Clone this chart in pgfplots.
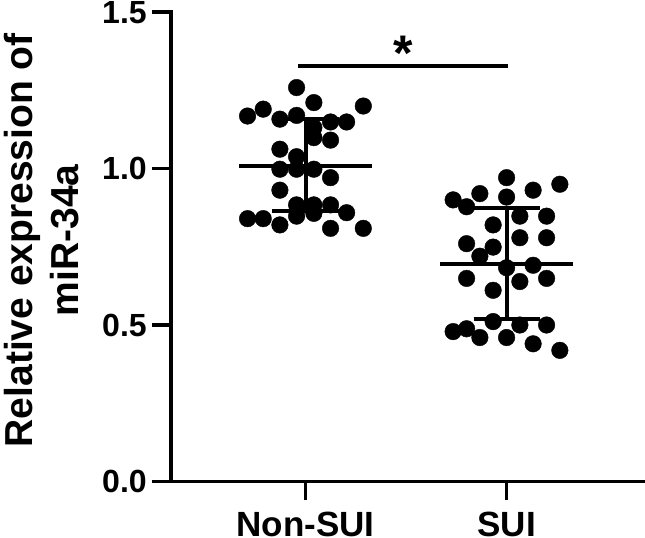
\documentclass[border=0pt]{standalone}
\usepackage{fontspec}
\setmainfont{Liberation Sans}
\usepackage{pgfplots}
\pgfplotsset{compat=1.18}
\begin{document}
\begin{tikzpicture}
\begin{axis}[
    scale only axis,
    width=472pt, height=469pt,
    xmin=-0.67, xmax=1.68,
    ymin=0, ymax=1.5,
    clip=false,
    axis x line*=bottom,
    axis y line*=left,
    axis line style={line width=3.5pt, line cap=rect},
    xtick={0,1},
    xticklabels={Non-SUI,SUI},
    ytick={0,0.5,1,1.5},
    tick align=outside,
    major tick length=19pt,
    tick style={line width=3.5pt, black},
    /pgf/number format/assume math mode=true,
    yticklabel style={font=\fontsize{32}{32}\selectfont\bfseries, inner sep=1pt, xshift=-4pt,
        /pgf/number format/.cd, fixed, fixed zerofill, precision=1},
    xticklabel style={font=\fontsize{35}{35}\selectfont\bfseries, inner sep=1pt, yshift=-10pt},
    ylabel={Relative expression of\\miR-34a},
    ylabel style={font=\fontsize{39}{46}\selectfont\bfseries, align=center,
        at={(axis description cs:-0.1864,0.514)}, anchor=south, inner sep=4pt},
]
% Non-SUI dots
\addplot[only marks, mark=*, mark size=8.3pt, black] table {
x y
-0.045 1.259
0.041 1.211
0.287 1.200
-0.289 1.168
-0.211 1.190
-0.128 1.158
-0.045 1.170
0.041 1.131
0.124 1.149
0.204 1.149
0.041 1.099
0.124 1.091
-0.128 1.062
-0.045 1.038
-0.128 0.998
-0.045 0.998
0.041 0.998
0.124 0.971
-0.128 0.931
-0.045 0.884
0.041 0.884
0.124 0.884
-0.045 0.848
0.041 0.857
0.204 0.859
-0.289 0.840
-0.211 0.840
-0.128 0.820
0.124 0.809
0.287 0.809
};
% SUI dots
\addplot[only marks, mark=*, mark size=8.3pt, black] table {
x y
1.000 0.971
1.265 0.950
0.867 0.920
1.132 0.931
1.000 0.909
0.734 0.900
0.801 0.878
1.066 0.848
1.199 0.848
0.933 0.820
1.066 0.779
1.199 0.779
0.801 0.760
0.933 0.749
0.867 0.720
1.000 0.683
1.132 0.691
0.801 0.649
1.066 0.639
1.199 0.649
0.933 0.611
0.933 0.511
1.066 0.500
1.199 0.500
0.801 0.488
0.734 0.479
0.867 0.460
1.000 0.460
1.132 0.440
1.265 0.419
};
% mean and SD, Non-SUI
\addplot[black, line width=4pt] coordinates {(-0.33,1.008) (0.33,1.008)};
\addplot[black, line width=4pt] coordinates {(0,0.864) (0,1.158)};
\addplot[black, line width=4pt] coordinates {(-0.165,1.158) (0.165,1.158)};
\addplot[black, line width=4pt] coordinates {(-0.165,0.864) (0.165,0.864)};
% mean and SD, SUI
\addplot[black, line width=4pt] coordinates {(0.67,0.696) (1.33,0.696)};
\addplot[black, line width=4pt] coordinates {(1,0.520) (1,0.875)};
\addplot[black, line width=4pt] coordinates {(0.836,0.875) (1.164,0.875)};
\addplot[black, line width=4pt] coordinates {(0.836,0.520) (1.164,0.520)};
% significance
\addplot[black, line width=4pt] coordinates {(-0.037,1.327) (1.008,1.327)};
\node[font=\fontsize{50}{50}\selectfont\bfseries, anchor=base, inner sep=0pt]
    at (axis cs:0.486,1.313) {*};
\end{axis}
\end{tikzpicture}
\end{document}
